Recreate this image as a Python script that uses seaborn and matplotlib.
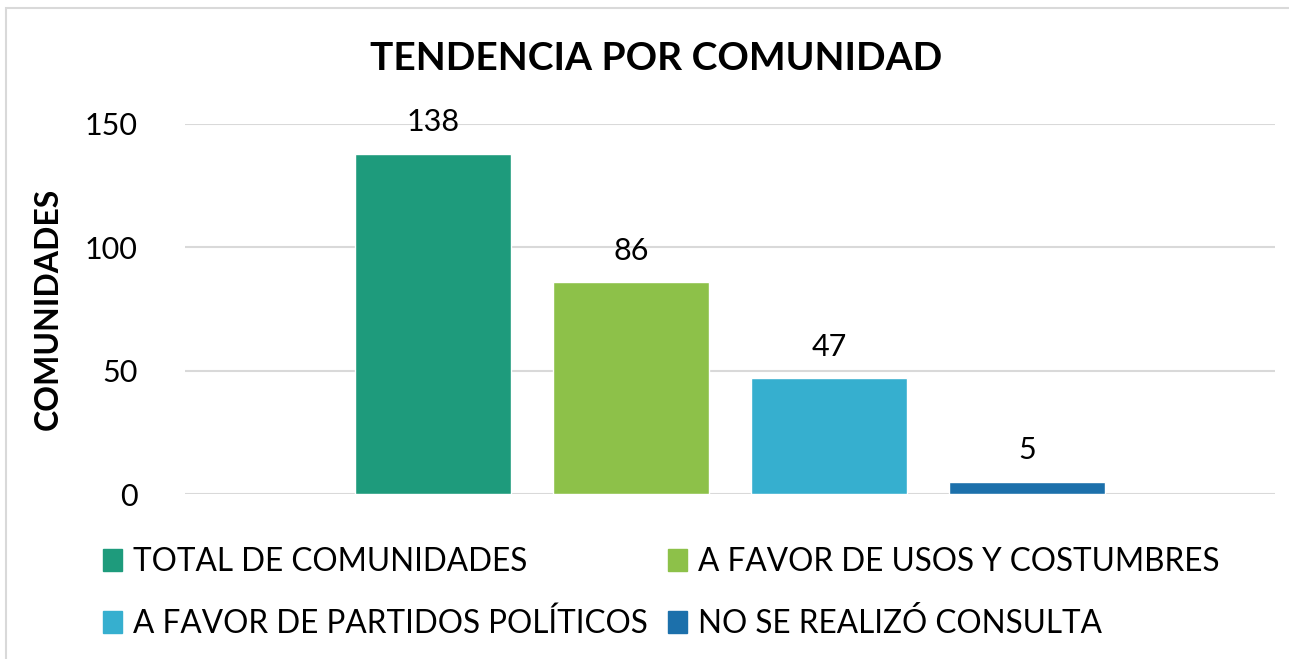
import matplotlib
matplotlib.use("Agg")
import matplotlib.pyplot as plt
import matplotlib.patches as mpatches
import seaborn as sns
import pandas as pd

categorias = ['TOTAL DE COMUNIDADES', 'A FAVOR DE USOS Y COSTUMBRES',
              'A FAVOR DE PARTIDOS POLÍTICOS', 'NO SE REALIZÓ CONSULTA']
valores = [138, 86, 47, 5]
colores = ['#1E9B7C', '#8DC149', '#36AFCF', '#1C70AB']
yticks = [0, 50, 100, 150]

sns.set_theme(style='white')
plt.rcParams['font.family'] = ['Lato', 'DejaVu Sans']
plt.rcParams['text.color'] = 'black'
plt.rcParams['ytick.color'] = 'black'
plt.rcParams['axes.labelcolor'] = 'black'

df = pd.DataFrame({'cat': categorias, 'val': valores})

fig = plt.figure(figsize=(12.89, 6.59), dpi=100)
ax = fig.add_axes([185/1289, 1 - 494/659, 1090/1289, 370/659])

sns.barplot(data=df, x='cat', y='val', hue='cat', palette=colores,
            width=0.788, saturation=1, legend=False, ax=ax)

ax.set_ylim(0, 150)
ax.set_xlim(-1.2525, 4.2525)
ax.set_yticks(yticks)
ax.set_yticklabels([str(t) for t in yticks], fontsize=22)
ax.set_xticks([])
ax.set_xlabel('')
ax.set_ylabel('COMUNIDADES', fontsize=23, fontweight='bold')
ax.yaxis.set_label_coords(-0.112, 0.5)
ax.tick_params(axis='y', length=0, pad=34)
ax.grid(axis='y', color='#D9D9D9', linewidth=1.5)
ax.set_axisbelow(True)
for s in ax.spines.values():
    s.set_visible(False)

for i, v in enumerate(valores):
    ax.text(i, v + 7, str(v), ha='center', va='bottom', fontsize=22)

fig.text(656/1289, 1 - 58/659, 'TENDENCIA POR COMUNIDAD', ha='center', va='center',
         fontsize=28, fontweight='bold')

# legend filled row by row like the original
orden = [0, 2, 1, 3]
handles = [mpatches.Patch(color=colores[i], label=categorias[i]) for i in orden]
fig.legend(handles=handles, ncol=2, loc='center left',
           bbox_to_anchor=(90/1289, 1 - 593/659), frameon=False, fontsize=22.7,
           handlelength=0.6, handleheight=0.7, handletextpad=0.35,
           columnspacing=0.65, labelspacing=1.0, borderaxespad=0)

# chart border (Excel style)
fig.patches.append(mpatches.Rectangle((6/1289, -0.1), 1.2, 1 - 8/659 + 0.1,
                                      transform=fig.transFigure, fill=False,
                                      edgecolor='#D9D9D9', linewidth=1.5))

fig.savefig('out.png', dpi=100)
